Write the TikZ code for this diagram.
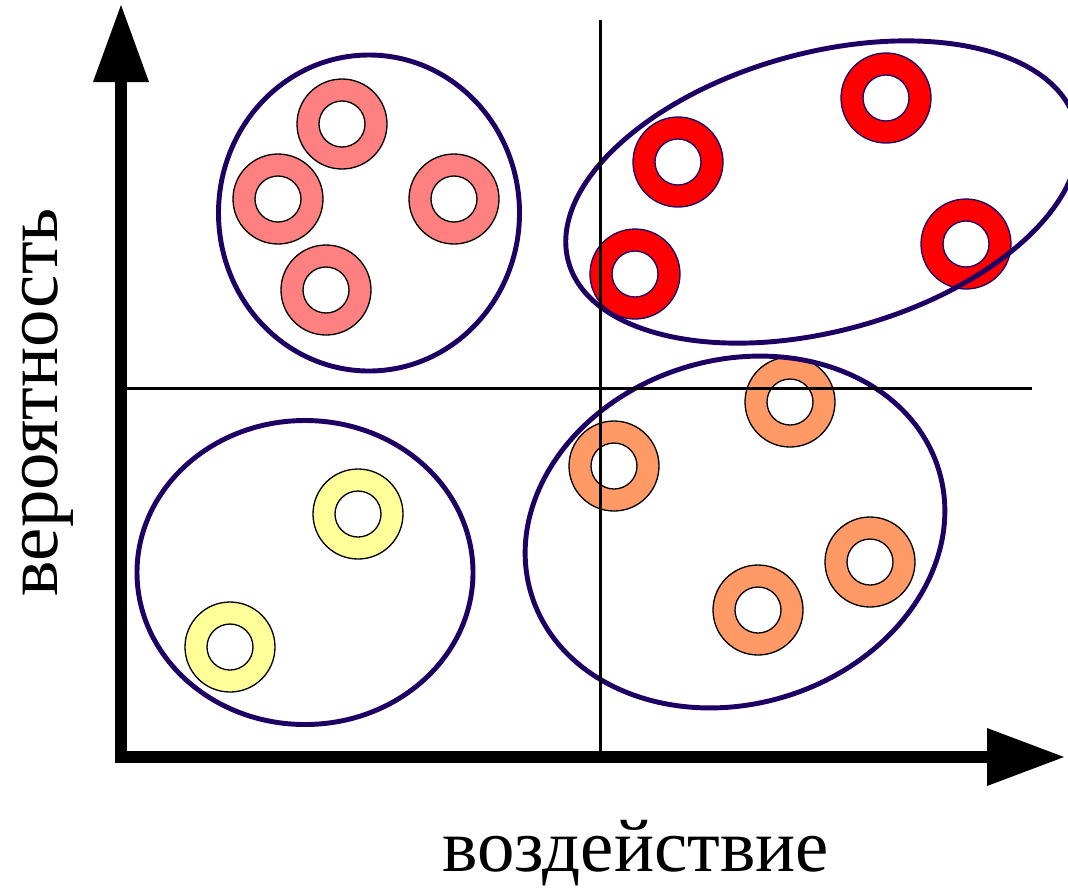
\documentclass[tikz,border=0pt]{standalone}
\usepackage{fontspec}
\setmainfont{Liberation Serif}
\newfontfamily\rufont{Liberation Serif}[Script=Cyrillic]
\definecolor{pinkc}{HTML}{FF8080}
\definecolor{redc}{HTML}{FF0000}
\definecolor{orangec}{HTML}{FF9966}
\definecolor{yellowc}{HTML}{FFFF99}
\definecolor{navyc}{RGB}{30,0,100}
\begin{document}
\begin{tikzpicture}[x=0.02cm,y=0.02cm,
  ring/.pic={\path[pic actions, even odd rule] (0,0) circle (45) (0,0) circle (23);},
  pinkring/.style={fill=pinkc, draw=black, line width=0.75pt},
  redring/.style={fill=redc, draw=navyc, line width=0.75pt},
  orangering/.style={fill=orangec, draw=black, line width=0.75pt},
  yellowring/.style={fill=yellowc, draw=black, line width=0.75pt},
  group/.style={draw=navyc, line width=2.8pt},
  guide/.style={draw=black, line width=1.7pt},
  axisline/.style={draw=black, line width=6.6pt, line join=miter},
  axishead/.style={fill=black},
  label/.style={font=\rufont\fontsize{42.6pt}{50pt}\selectfont, inner sep=0pt, anchor=base}
]
\useasboundingbox (0,0) rectangle (1068,-887);
% rings
\pic[pinkring] at (342,-124) {ring};
\pic[pinkring] at (278,-199) {ring};
\pic[pinkring] at (454,-199) {ring};
\pic[pinkring] at (326,-290) {ring};
\pic[redring] at (678,-162) {ring};
\pic[redring] at (886,-98) {ring};
\pic[redring] at (635,-274) {ring};
\pic[redring] at (966,-244) {ring};
\pic[orangering] at (614,-466) {ring};
\pic[orangering] at (790,-402) {ring};
\pic[orangering] at (870,-562) {ring};
\pic[orangering] at (758,-610) {ring};
\pic[yellowring] at (358,-514) {ring};
\pic[yellowring] at (230,-647) {ring};
% groups
\draw[group] (369,-213) ellipse [x radius=150.5, y radius=158];
\draw[group, rotate around={15.4:(822,-192)}] (822,-192) ellipse [x radius=263, y radius=139];
\draw[group] (305,-572.5) ellipse [x radius=168, y radius=152];
\draw[group, rotate around={17:(735,-532)}] (735,-532) ellipse [x radius=213, y radius=172];
% guide lines
\coordinate (vtop) at (600,-20);
\coordinate (vbot) at (600,-752);
\coordinate (hl) at (127,-388);
\coordinate (hr) at (1032,-388);
\draw[guide] (vtop) -- (vbot);
\draw[guide] (hl) -- (hr);
% axes
\coordinate (ybase) at (121,-82);
\coordinate (origin) at (121,-757);
\coordinate (xbase) at (987,-757);
\draw[axisline] (ybase) -- (origin) -- (xbase);
\fill[axishead] (121,-5) -- (93,-82) -- (149,-82) -- cycle;
\fill[axishead] (1064,-757) -- (987,-728) -- (987,-786) -- cycle;
% labels
\node[label] (xlab) at (635.5,-871) {воздействие};
\node[label, rotate=90] (ylab) at (57,-402) {вероятность};
\end{tikzpicture}
\end{document}
